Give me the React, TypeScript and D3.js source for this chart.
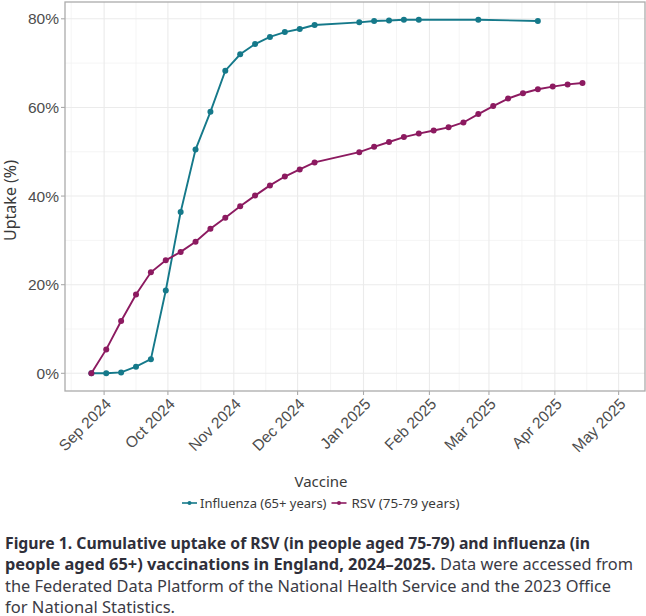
import * as d3 from 'd3';
import { useEffect, useRef } from 'react';

// weekly cumulative uptake
const fluDates = [
  '2024-08-26', '2024-09-02', '2024-09-09', '2024-09-16', '2024-09-23', '2024-09-30',
  '2024-10-07', '2024-10-14', '2024-10-21', '2024-10-28', '2024-11-04', '2024-11-11',
  '2024-11-18', '2024-11-25', '2024-12-02', '2024-12-09', '2024-12-30', '2025-01-06',
  '2025-01-13', '2025-01-20', '2025-01-27', '2025-02-24', '2025-03-24',
];
const fluValues = [
  0, 0, 0.2, 1.5, 3.2, 18.7, 36.4, 50.5, 59.0, 68.3, 72.0, 74.3,
  75.9, 77.0, 77.7, 78.6, 79.2, 79.5, 79.6, 79.8, 79.8, 79.8, 79.5,
];

const rsvDates = [
  '2024-08-26', '2024-09-02', '2024-09-09', '2024-09-16', '2024-09-23', '2024-09-30',
  '2024-10-07', '2024-10-14', '2024-10-21', '2024-10-28', '2024-11-04', '2024-11-11',
  '2024-11-18', '2024-11-25', '2024-12-02', '2024-12-09', '2024-12-30', '2025-01-06',
  '2025-01-13', '2025-01-20', '2025-01-27', '2025-02-03', '2025-02-10', '2025-02-17',
  '2025-02-24', '2025-03-03', '2025-03-10', '2025-03-17', '2025-03-24', '2025-03-31',
  '2025-04-07', '2025-04-14',
];
const rsvValues = [
  0, 5.4, 11.8, 17.8, 22.8, 25.5, 27.4, 29.7, 32.6, 35.1, 37.7, 40.1,
  42.4, 44.4, 46.0, 47.6, 49.9, 51.1, 52.2, 53.3, 54.1, 54.8, 55.5, 56.6,
  58.5, 60.3, 62.0, 63.2, 64.1, 64.7, 65.2, 65.5,
];

const seriesNames = ['Influenza (65+ years)', 'RSV (75-79 years)'];
const seriesColors = ['#15798a', '#8c1a60'];
const xLimits = ['2024-08-26', '2025-05-01'];
const yTicks = [0, 20, 40, 60, 80];
const yMinor = [10, 30, 50, 70];
const legendTitle = 'Vaccine';
const yTitle = 'Uptake (%)';

const captionLines: { bold: string; normal: string }[] = [
  { bold: 'Figure 1. Cumulative uptake of RSV (in people aged 75-79) and influenza (in', normal: '' },
  { bold: 'people aged 65+) vaccinations in England, 2024\u20132025.', normal: ' Data were accessed from' },
  { bold: '', normal: 'the Federated Data Platform of the National Health Service and the 2023 Office' },
  { bold: '', normal: 'for National Statistics.' },
];
const captionWidths = [585, 628, 606, 170];

export default function App() {
  const svgRef = useRef<SVGSVGElement | null>(null);

  useEffect(() => {
    if (!svgRef.current) return;
    document.body.style.margin = '0';
    const W = 646, H = 616;
    const left = 65, right = 645, top = 2, bottom = 391;
    const parse = d3.utcParse('%Y-%m-%d');

    const svg = d3.select(svgRef.current);
    svg.selectAll('*').remove();
    svg.attr('width', W).attr('height', H).style('background', '#fff');

    // x limits with ggplot's 5% expansion
    const [l0, l1] = xLimits.map(s => parse(s)!.getTime());
    const pad = (l1 - l0) * 0.05;
    const x = d3.scaleUtc().domain([new Date(l0 - pad), new Date(l1 + pad)]).range([left, right]);

    const yMax = d3.max([...fluValues, ...rsvValues])!;
    const y = d3.scaleLinear().domain([-yMax * 0.05, yMax * 1.05]).range([bottom, top]);

    const months = d3.utcMonth.range(parse('2024-09-01')!, parse('2025-05-02')!);
    const allMonths = d3.utcMonth.range(parse('2024-08-01')!, parse('2025-06-02')!);
    const minorX = d3.pairs(allMonths)
      .map(([a, b]) => new Date((a.getTime() + b.getTime()) / 2))
      .filter(d => x(d) > left && x(d) < right);

    const grid = svg.append('g');
    grid.selectAll('line.ymin').data(yMinor).join('line')
      .attr('x1', left).attr('x2', right)
      .attr('y1', d => y(d)).attr('y2', d => y(d))
      .attr('stroke', '#f2f2f2').attr('stroke-width', 0.8);
    grid.selectAll('line.xmin').data(minorX).join('line')
      .attr('y1', top).attr('y2', bottom)
      .attr('x1', d => x(d)).attr('x2', d => x(d))
      .attr('stroke', '#f2f2f2').attr('stroke-width', 0.8);
    grid.selectAll('line.ymaj').data(yTicks).join('line')
      .attr('x1', left).attr('x2', right)
      .attr('y1', d => y(d)).attr('y2', d => y(d))
      .attr('stroke', '#ebebeb').attr('stroke-width', 1.1);
    grid.selectAll('line.xmaj').data(months).join('line')
      .attr('y1', top).attr('y2', bottom)
      .attr('x1', d => x(d)).attr('x2', d => x(d))
      .attr('stroke', '#ebebeb').attr('stroke-width', 1.1);

    const series = [
      { name: seriesNames[0], color: seriesColors[0], pts: fluDates.map((d, i) => ({ date: parse(d)!, v: fluValues[i] })) },
      { name: seriesNames[1], color: seriesColors[1], pts: rsvDates.map((d, i) => ({ date: parse(d)!, v: rsvValues[i] })) },
    ];

    const line = d3.line<{ date: Date; v: number }>().x(d => x(d.date)).y(d => y(d.v));

    const plot = svg.append('g');
    series.forEach(s => {
      plot.append('path').attr('d', line(s.pts)).attr('fill', 'none')
        .attr('stroke', s.color).attr('stroke-width', 1.9);
      plot.append('g').selectAll('circle').data(s.pts).join('circle')
        .attr('cx', d => x(d.date)).attr('cy', d => y(d.v)).attr('r', 3)
        .attr('fill', s.color);
    });

    // panel border
    svg.append('rect').attr('x', left).attr('y', top)
      .attr('width', right - left).attr('height', bottom - top)
      .attr('fill', 'none').attr('stroke', '#ababab').attr('stroke-width', 1.3);

    const tickFont = '"Liberation Sans", Arial, sans-serif';
    // y axis
    const ya = svg.append('g');
    ya.selectAll('line').data(yTicks).join('line')
      .attr('x1', left - 4).attr('x2', left).attr('y1', d => y(d)).attr('y2', d => y(d))
      .attr('stroke', '#ababab').attr('stroke-width', 1.1);
    ya.selectAll('text').data(yTicks).join('text')
      .attr('x', left - 6).attr('y', d => y(d)).attr('dy', '0.36em')
      .attr('text-anchor', 'end').attr('font-family', tickFont).attr('font-size', 15.5)
      .attr('fill', '#4d4d4d').text(d => `${d}%`);

    // x axis
    const xa = svg.append('g');
    xa.selectAll('line').data(months).join('line')
      .attr('x1', d => x(d)).attr('x2', d => x(d)).attr('y1', bottom).attr('y2', bottom + 4)
      .attr('stroke', '#ababab').attr('stroke-width', 1.1);
    const fmt = d3.utcFormat('%b %Y');
    xa.selectAll('text').data(months).join('text')
      .attr('transform', d => `translate(${x(d) + 8},${bottom + 14}) rotate(-45)`)
      .attr('text-anchor', 'end').attr('font-family', tickFont).attr('font-size', 15.5)
      .attr('fill', '#4d4d4d').text(d => fmt(d));

    const titleFont = '"Noto Sans", "Open Sans", sans-serif';
    svg.append('text')
      .attr('transform', `translate(15.5,${(top + bottom) / 2 + 4}) rotate(-90)`)
      .attr('text-anchor', 'middle').attr('font-family', titleFont).attr('font-size', 16)
      .attr('fill', '#3a3a3a').text(yTitle);

    // legend
    svg.append('text').attr('x', 321).attr('y', 487).attr('text-anchor', 'middle')
      .attr('font-family', titleFont).attr('font-size', 15).attr('fill', '#3a3a3a').text(legendTitle);
    const keyX = [182, 331.5];
    const labX = [200, 351.5];
    const labW = [126.5, 108];
    series.forEach((s, i) => {
      const g = svg.append('g');
      g.append('line').attr('x1', keyX[i]).attr('x2', keyX[i] + 15).attr('y1', 503).attr('y2', 503)
        .attr('stroke', s.color).attr('stroke-width', 1.6);
      g.append('circle').attr('cx', keyX[i] + 7.5).attr('cy', 503).attr('r', 2).attr('fill', s.color);
      g.append('text').attr('x', labX[i]).attr('y', 507.5)
        .attr('font-family', titleFont).attr('font-size', 13).attr('fill', '#3a3a3a')
        .attr('textLength', labW[i]).attr('lengthAdjust', 'spacingAndGlyphs').text(s.name);
    });

    // caption
    const capBase = [548.5, 570, 591.5, 612.5];
    captionLines.forEach((ln, i) => {
      const t = svg.append('text').attr('x', 5).attr('y', capBase[i])
        .attr('font-family', titleFont).attr('font-size', 16).attr('fill', '#3b3b45')
        .attr('textLength', captionWidths[i]).attr('lengthAdjust', 'spacingAndGlyphs');
      if (ln.bold) t.append('tspan').attr('font-weight', 'bold').attr('fill', '#2f2f3a').text(ln.bold);
      if (ln.normal) t.append('tspan').text(ln.normal);
    });
  }, []);

  return <svg ref={svgRef} />;
}
